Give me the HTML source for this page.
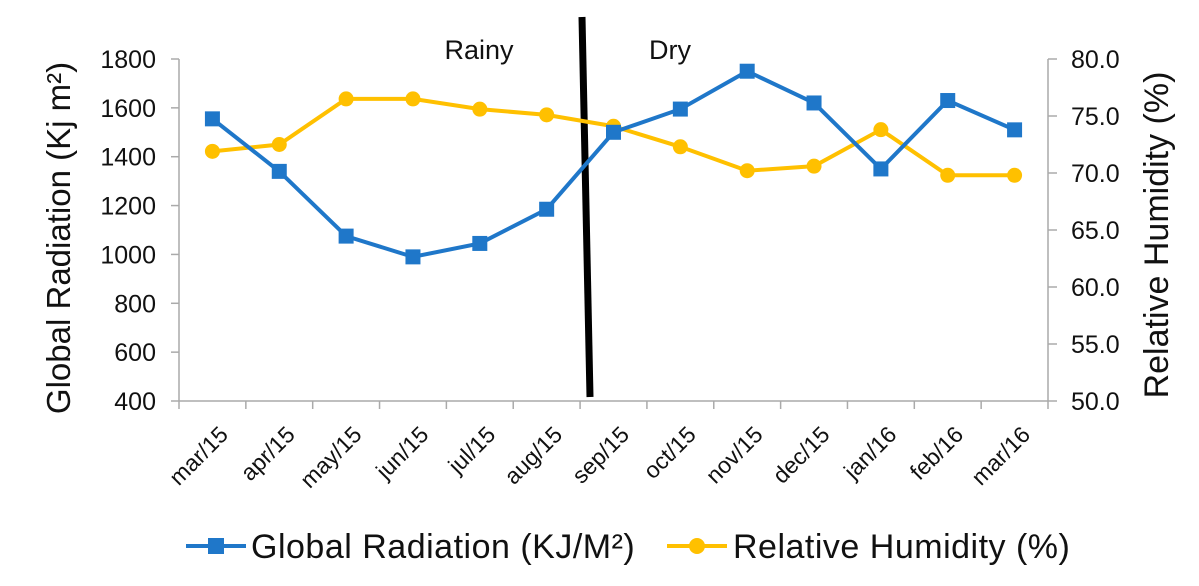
<!DOCTYPE html>
<html><head><meta charset="utf-8"><style>
body{margin:0;background:#fff;}
svg text{font-family:"Liberation Sans",Arial,sans-serif;fill:#111;}
</style></head><body>
<svg width="1199" height="581" viewBox="0 0 1199 581" id="chart">
<g id="axes"></g><g id="marks"></g>
</svg>
<script>
const categories=["mar/15","apr/15","may/15","jun/15","jul/15","aug/15","sep/15","oct/15","nov/15","dec/15","jan/16","feb/16","mar/16"];
const radiation=[1555,1340,1075,990,1045,1185,1500,1595,1750,1620,1350,1630,1510];
const humidity=[71.9,72.5,76.5,76.5,75.6,75.1,74.1,72.3,70.2,70.6,73.8,69.8,69.8];
const leftTicks=[400,600,800,1000,1200,1400,1600,1800];
const rightTicks=[50,55,60,65,70,75,80];
const X0=179,X1=1048,YT=59,YB=401;
const bw=(X1-X0)/categories.length;
const xs=i=>X0+bw*(i+0.5);
const yL=v=>YB-(v-400)/1400*(YB-YT);
const yR=v=>YB-(v-50)/30*(YB-YT);
const NS="http://www.w3.org/2000/svg";
const axes=document.getElementById('axes'),marks=document.getElementById('marks');
function mk(tag,attrs,parent,txt){const e=document.createElementNS(NS,tag);for(const k in attrs)e.setAttribute(k,attrs[k]);if(txt!==undefined)e.textContent=txt;parent.appendChild(e);return e;}
let e;
e=mk('line',{x1:X0,y1:YT,x2:X0,y2:YB,stroke:'#aaa','stroke-width':1.5},axes);

e=mk('line',{x1:X1,y1:YT,x2:X1,y2:YB,stroke:'#aaa','stroke-width':1.5},axes);

e=mk('line',{x1:X0,y1:YB,x2:X1,y2:YB,stroke:'#aaa','stroke-width':1.5},axes);

leftTicks.forEach(v=>{mk('line',{x1:X0-8,y1:yL(v),x2:X0,y2:yL(v),stroke:'#aaa','stroke-width':1.5},axes);
 e=mk('text',{x:156,y:yL(v)+9,'text-anchor':'end','font-size':25},axes,v);
 });
rightTicks.forEach(v=>{mk('line',{x1:X1,y1:yR(v),x2:X1+9,y2:yR(v),stroke:'#aaa','stroke-width':1.5},axes);
 e=mk('text',{x:1071,y:yR(v)+9,'font-size':25},axes,v.toFixed(1));
 });
for(let i=0;i<=categories.length;i++){mk('line',{x1:X0+bw*i,y1:YB,x2:X0+bw*i,y2:YB+8,stroke:'#aaa','stroke-width':1.5},axes);}
categories.forEach((c,i)=>{const x=xs(i)+17,y=YB+35;
 e=mk('text',{x:x,y:y,'text-anchor':'end','font-size':23,transform:`rotate(-45 ${x} ${y})`},axes,c);
 });
e=mk('text',{x:0,y:0,'text-anchor':'middle','font-size':33,transform:`translate(70 238) rotate(-90)`},axes,'Global Radiation (Kj m²)');

e=mk('text',{x:0,y:0,'text-anchor':'middle','font-size':34,transform:`translate(1168 235) rotate(-90)`},axes,'Relative Humidity (%)');

e=mk('line',{x1:582,y1:17,x2:590,y2:397,stroke:'#000','stroke-width':7},marks);

e=mk('text',{x:479,y:59,'text-anchor':'middle','font-size':27},marks,'Rainy');

e=mk('text',{x:670,y:59,'text-anchor':'middle','font-size':27},marks,'Dry');

e=mk('polyline',{points:humidity.map((v,i)=>xs(i)+','+yR(v)).join(' '),fill:'none',stroke:'#FFC000','stroke-width':4},marks);

humidity.forEach((v,i)=>{e=mk('circle',{cx:xs(i),cy:yR(v),r:7.5,fill:'#FFC000'},marks);
 });
e=mk('polyline',{points:radiation.map((v,i)=>xs(i)+','+yL(v)).join(' '),fill:'none',stroke:'#1F77C9','stroke-width':4},marks);

radiation.forEach((v,i)=>{e=mk('rect',{x:xs(i)-7.5,y:yL(v)-7.5,width:15,height:15,fill:'#1F77C9'},marks);
 });
e=mk('g',{},marks);
const lg=e;
mk('line',{x1:186,y1:546,x2:246,y2:546,stroke:'#1F77C9','stroke-width':4},lg);
mk('rect',{x:208,y:538,width:16,height:16,fill:'#1F77C9'},lg);
e=mk('text',{x:251,y:558,'font-size':34,'letter-spacing':0.5},lg,'Global Radiation (KJ/M²)');

mk('line',{x1:667,y1:546,x2:727,y2:546,stroke:'#FFC000','stroke-width':4},lg);
mk('circle',{cx:697,cy:546,r:8,fill:'#FFC000'},lg);
e=mk('text',{x:733,y:558,'font-size':34,'letter-spacing':0.5},lg,'Relative Humidity (%)');

</script>
</body></html>
